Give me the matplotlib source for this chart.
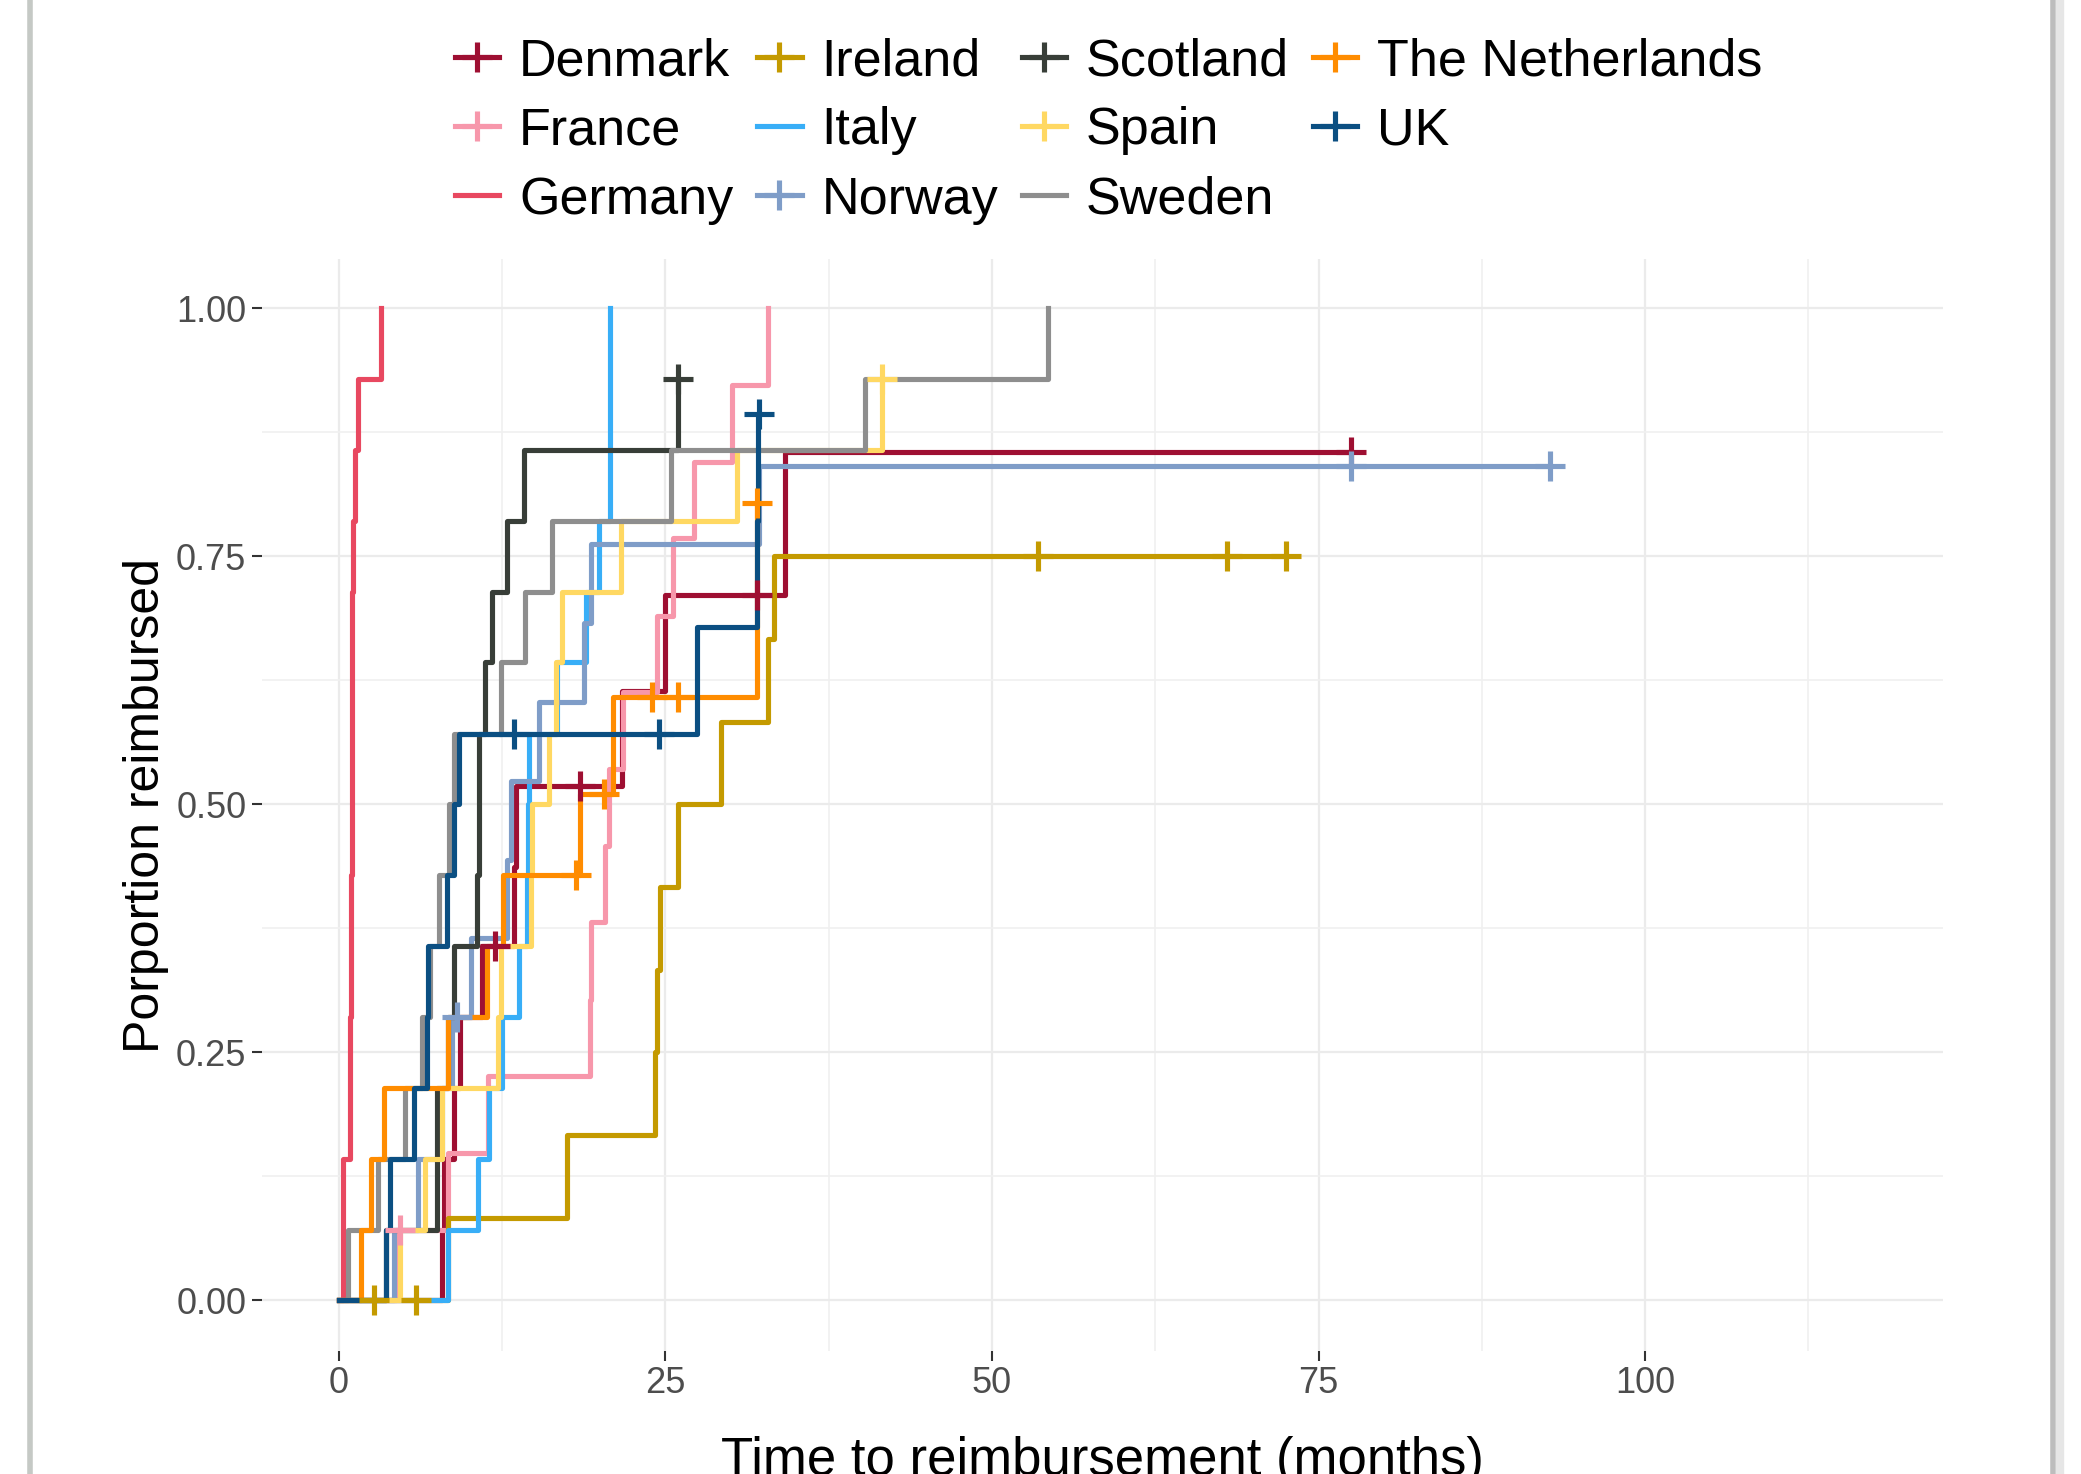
import numpy as np
import matplotlib
matplotlib.use("Agg")
import matplotlib.pyplot as plt
from matplotlib.lines import Line2D

plt.rcParams['font.family'] = ['Liberation Sans', 'DejaVu Sans']

# event times (months) and proportion reimbursed after each event, censor times
denmark_t = [7.9, 8.1, 8.8, 9.3, 11.0, 13.4, 13.6, 21.7, 25.0, 34.2]
denmark_p = [0.071, 0.143, 0.214, 0.286, 0.357, 0.437, 0.518, 0.614, 0.711, 0.855]
denmark_c = [12.0, 18.5, 32.0, 77.5]

france_t = [4.4, 8.4, 11.4, 19.2, 19.3, 20.4, 20.7, 21.8, 24.4, 25.6, 27.2, 30.1, 32.9]
france_p = [0.071, 0.149, 0.226, 0.303, 0.381, 0.458, 0.536, 0.613, 0.690, 0.768, 0.845, 0.923, 1.0]
france_c = [4.7]

germany_t = [0.33, 0.84, 0.94, 1.02, 1.10, 1.23, 1.46, 3.25]
germany_p = [0.143, 0.286, 0.429, 0.714, 0.786, 0.857, 0.929, 1.0]
germany_c = []

ireland_t = [8.4, 17.5, 24.2, 24.4, 24.6, 26.0, 29.3, 32.9, 33.3]
ireland_p = [0.083, 0.167, 0.25, 0.333, 0.417, 0.5, 0.583, 0.667, 0.75]
ireland_c = [2.7, 5.9, 53.5, 68.0, 72.5]

italy_t = [8.4, 10.7, 11.5, 12.5, 13.8, 14.4, 14.5, 14.6, 16.7, 18.9, 19.9, 20.8]
italy_p = [0.071, 0.143, 0.214, 0.286, 0.357, 0.429, 0.5, 0.571, 0.643, 0.714, 0.786, 1.0]
italy_c = []

norway_t = [4.2, 6.1, 7.9, 8.7, 10.1, 12.9, 13.2, 15.3, 18.8, 19.3, 32.2]
norway_p = [0.071, 0.143, 0.214, 0.286, 0.365, 0.444, 0.524, 0.603, 0.683, 0.762, 0.841]
norway_c = [9.05, 77.5, 92.7]

scotland_t = [3.6, 7.55, 8.4, 8.8, 10.6, 10.75, 11.23, 11.74, 12.9, 14.2, 26.0]
scotland_p = [0.071, 0.214, 0.286, 0.357, 0.429, 0.571, 0.643, 0.714, 0.786, 0.857, 0.929]
scotland_c = [26.0]

spain_t = [4.7, 6.6, 7.9, 12.2, 12.4, 14.7, 14.8, 16.1, 16.6, 17.1, 21.6, 30.5, 41.6]
spain_p = [0.071, 0.143, 0.214, 0.286, 0.357, 0.429, 0.5, 0.571, 0.643, 0.714, 0.786, 0.857, 0.929]
spain_c = [41.6]

sweden_t = [0.71, 3.0, 5.1, 6.4, 7.0, 7.65, 8.45, 8.8, 12.4, 14.3, 16.3, 25.4, 40.3, 54.3]
sweden_p = [0.071, 0.143, 0.214, 0.286, 0.357, 0.429, 0.5, 0.571, 0.643, 0.714, 0.786, 0.857, 0.929, 1.0]
sweden_c = []

netherlands_t = [1.73, 2.5, 3.5, 8.4, 11.35, 12.6, 18.5, 21.0, 32.0]
netherlands_p = [0.071, 0.143, 0.214, 0.286, 0.357, 0.429, 0.510, 0.608, 0.804]
netherlands_c = [18.2, 20.3, 24.0, 26.0, 32.0]

uk_t = [3.6, 3.95, 5.74, 6.76, 6.85, 8.3, 8.8, 9.2, 27.4, 32.0, 32.1]
uk_p = [0.071, 0.143, 0.214, 0.286, 0.357, 0.429, 0.5, 0.571, 0.679, 0.786, 0.893]
uk_c = [13.4, 24.5, 32.15]

names = ['Denmark', 'France', 'Germany', 'Ireland', 'Italy', 'Norway',
         'Scotland', 'Spain', 'Sweden', 'The Netherlands', 'UK']
colors = ['#9E0F32', '#F797AB', '#E84860', '#C49A00', '#38AEF7', '#7F9DC8',
          '#383E38', '#FFD862', '#8E8E8E', '#FF8C00', '#0B4F82']
series = [(denmark_t, denmark_p, denmark_c), (france_t, france_p, france_c),
          (germany_t, germany_p, germany_c), (ireland_t, ireland_p, ireland_c),
          (italy_t, italy_p, italy_c), (norway_t, norway_p, norway_c),
          (scotland_t, scotland_p, scotland_c), (spain_t, spain_p, spain_c),
          (sweden_t, sweden_p, sweden_c), (netherlands_t, netherlands_p, netherlands_c),
          (uk_t, uk_p, uk_c)]

fig = plt.figure(figsize=(20.81, 14.74), dpi=100)
ax = fig.add_axes([0.1257, 0.0834, 0.8080, 0.7409])

lw = 3.7
ms = 22
handles = []
for i, (name, col, (t, p, c)) in enumerate(zip(names, colors, series)):
    end = max(t[-1], max(c) if c else 0)
    xs = [0] + list(t) + [end]
    ys = [0] + list(p) + [p[-1]]
    ax.step(xs, ys, where='post', color=col, lw=lw, zorder=3 + i * 0.01)
    handles.append(Line2D([0], [0], color=col, lw=lw, marker='+' if c else None,
                          markersize=ms, markeredgewidth=lw))

for name, col, (t, p, c) in zip(names, colors, series):
    if c:
        idx = np.searchsorted(t, c, side='right') - 1
        yc = [p[j] if j >= 0 else 0 for j in idx]
        ax.plot(c, yc, linestyle='none', marker='+', color=col,
                markersize=ms, markeredgewidth=lw, zorder=5)

ax.set_xlim(-5.9, 122.8)
ax.set_ylim(-0.051, 1.0496)
ax.set_xticks([0, 25, 50, 75, 100])
ax.set_xticks([12.5, 37.5, 62.5, 87.5, 112.5], minor=True)
ax.set_yticks([0, 0.25, 0.5, 0.75, 1.0])
ax.set_yticklabels(['0.00', '0.25', '0.50', '0.75', '1.00'])
ax.set_yticks([0.125, 0.375, 0.625, 0.875], minor=True)
ax.grid(which='major', color='#EBEBEB', lw=1.6, zorder=0)
ax.grid(which='minor', color='#F0F0F0', lw=1.2, zorder=0)
ax.set_axisbelow(True)
for s in ax.spines.values():
    s.set_visible(False)
ax.tick_params(which='major', length=7, width=1.5, color='#333333',
               labelsize=26, labelcolor='#4D4D4D', pad=4)
ax.tick_params(which='minor', length=0)

ax.set_xlabel('Time to reimbursement (months)', fontsize=38)
ax.set_ylabel('Porportion reimbursed', fontsize=36)
ax.xaxis.set_label_coords(0.5, -0.078)
ax.yaxis.set_label_coords(-0.055, 0.5)

fig.legend(handles, names, loc='upper left', bbox_to_anchor=(455 / 2081, 1 - 37 / 1474),
           ncol=4, frameon=False, fontsize=37.5, handlelength=0.85,
           handletextpad=0.38, columnspacing=0.46, labelspacing=0.39,
           borderpad=0, borderaxespad=0)

# screenshot frame
fig.add_artist(Line2D([30 / 2081, 30 / 2081], [0, 1], color='#C5C9C5', lw=4))
fig.add_artist(Line2D([2053 / 2081, 2053 / 2081], [0, 1], color='#BDBDBD', lw=4))
fig.add_artist(Line2D([2060 / 2081, 2060 / 2081], [0, 1], color='#E6E6E6', lw=6))

fig.savefig('out.png', dpi=100)
